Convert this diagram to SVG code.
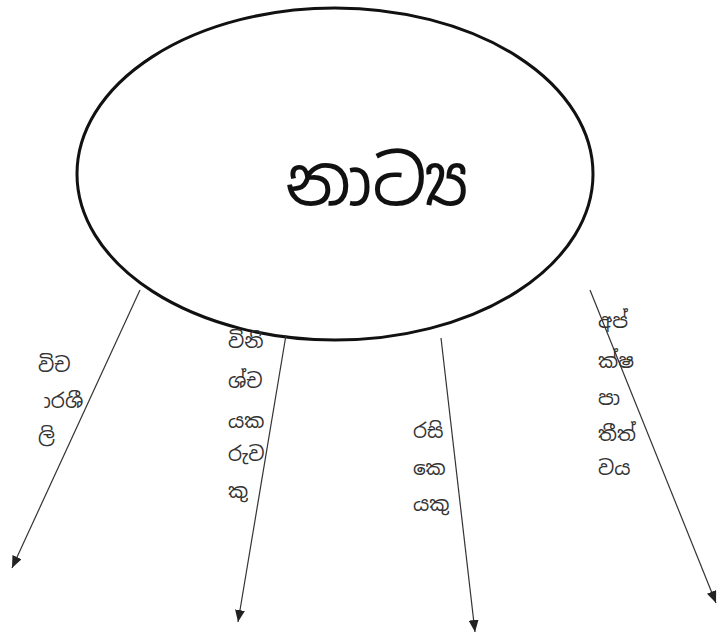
<svg xmlns="http://www.w3.org/2000/svg" width="718" height="637" viewBox="0 0 718 637">
<defs>
<style>
.lbl{font-family:"Noto Sans Sinhala","Noto Sans","DejaVu Sans",sans-serif;font-size:20px;fill:#333}
.edge{stroke:#333;stroke-width:1.2;fill:none;marker-end:url(#ah)}
</style>
<marker id="ah" viewBox="0 0 12 10" refX="12" refY="5" markerWidth="12" markerHeight="10" markerUnits="userSpaceOnUse" orient="auto">
<path d="M0,0 L12,5 L0,10 z" fill="#222"/>
</marker>
</defs>
<rect width="718" height="637" fill="#fff"/>
<g id="center">
<ellipse cx="335" cy="174" rx="258" ry="166" fill="#fff" stroke="#111" stroke-width="3"/>
<text x="377" y="205" text-anchor="middle" style="font-family:'Noto Sans Sinhala','Noto Sans','DejaVu Sans',sans-serif;font-size:68px;fill:#111">නාට්‍ය</text>
</g>
<g id="connectors">
<line class="edge" x1="140" y1="290" x2="12" y2="568"/>
<line class="edge" x1="286" y1="335" x2="238" y2="622"/>
<line class="edge" x1="441" y1="338" x2="475" y2="632"/>
<line class="edge" x1="590" y1="290" x2="716" y2="603"/>
</g>
<g id="label1">
<text class="lbl" x="38" y="372">විච</text>
<text class="lbl" x="34" y="408">&#xA0;ාරශී</text>
<text class="lbl" x="38" y="442">ලි</text>
</g>
<g id="label2">
<text class="lbl" x="228" y="348">විනි</text>
<text class="lbl" x="228" y="388">ශ්ච</text>
<text class="lbl" x="228" y="428">යක</text>
<text class="lbl" x="228" y="461">රුව</text>
<text class="lbl" x="228" y="498">කු</text>
</g>
<g id="label3">
<text class="lbl" x="413" y="438">රසි</text>
<text class="lbl" x="413" y="475">කෙ</text>
<text class="lbl" x="413" y="511">යකු</text>
</g>
<g id="label4">
<text class="lbl" x="598" y="328">අප්</text>
<text class="lbl" x="598" y="368">ක්ෂ</text>
<text class="lbl" x="598" y="405">පා</text>
<text class="lbl" x="598" y="441">තීත්</text>
<text class="lbl" x="598" y="475">වය</text>
</g>
</svg>
